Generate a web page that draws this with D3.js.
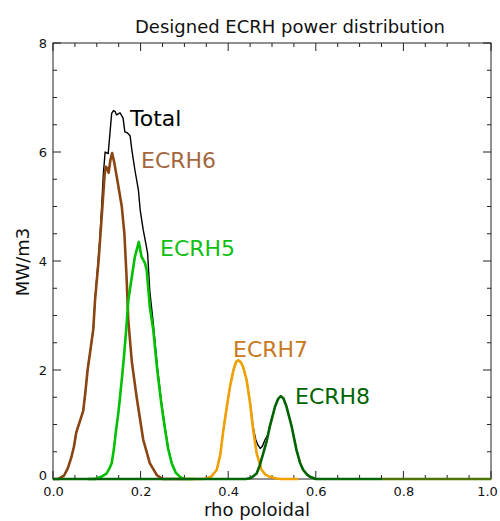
<!DOCTYPE html>
<html><head><meta charset="utf-8">
<script src="https://cdn.jsdelivr.net/npm/d3@7"></script>
<style>body{margin:0;background:#fff}svg{display:block;font-family:"DejaVu Sans",sans-serif}</style>
</head><body><svg id="c" width="500" height="521"></svg>
<script>
const title = "Designed ECRH power distribution";
const xLabel = "rho poloidal";
const yLabel = "MW/m3";
const xTicks = [0, 0.2, 0.4, 0.6, 0.8, 1.0];
const yTicks = [0, 2, 4, 6, 8];

const totalRho = [0,0.012,0.025,0.034,0.042,0.048,0.053,0.057,0.063,0.069,0.074,0.079,0.086,0.092,0.096,0.102,0.107,0.111,0.115,0.119,0.126,0.134,0.138,0.142,0.145,0.149,0.153,0.16,0.164,0.17,0.176,0.18,0.187,0.195,0.199,0.206,0.212,0.216,0.221,0.229,0.238,0.247,0.256,0.263,0.271,0.28,0.29,0.3,0.34,0.351,0.362,0.374,0.382,0.389,0.397,0.404,0.412,0.418,0.423,0.429,0.434,0.442,0.45,0.457,0.463,0.468,0.473,0.478,0.484,0.49,0.495,0.507,0.514,0.52,0.526,0.533,0.545,0.556,0.564,0.571,0.58,0.587,0.6,1.0];
const totalVal = [0,0,0.06,0.2,0.4,0.6,0.85,0.95,1.1,1.25,1.6,2.0,2.4,2.75,3.3,3.9,4.39,5.0,5.6,6.0,5.97,6.71,6.76,6.74,6.68,6.7,6.72,6.62,6.37,6.35,6.3,6.04,5.67,5.3,4.94,4.57,4.32,4.14,3.45,2.85,2.07,1.45,0.93,0.57,0.3,0.12,0.04,0,0,0.01,0.05,0.17,0.45,0.9,1.33,1.69,2.0,2.15,2.18,2.14,2.06,1.82,1.4,0.95,0.72,0.62,0.56,0.6,0.72,0.8,0.98,1.33,1.47,1.52,1.48,1.33,0.96,0.53,0.3,0.17,0.08,0.04,0,0];

const ecrh6Rho = [0,0.012,0.025,0.034,0.042,0.048,0.053,0.057,0.063,0.069,0.074,0.079,0.086,0.092,0.096,0.104,0.112,0.118,0.121,0.124,0.127,0.131,0.135,0.14,0.148,0.157,0.163,0.168,0.172,0.18,0.191,0.206,0.221,0.237,0.25,0.3];
const ecrh6Val = [0,0,0.06,0.2,0.4,0.6,0.85,0.95,1.1,1.25,1.6,2.0,2.4,2.75,3.28,4.0,4.9,5.6,5.73,5.7,5.62,5.85,5.98,5.8,5.43,5.0,4.5,3.7,2.9,2.15,1.5,0.72,0.29,0.07,0,0];

const ecrh5Rho = [0.08,0.096,0.11,0.122,0.128,0.134,0.139,0.144,0.149,0.153,0.158,0.162,0.167,0.172,0.18,0.187,0.196,0.202,0.21,0.214,0.221,0.229,0.238,0.247,0.256,0.263,0.271,0.28,0.29,0.298,0.32];
const ecrh5Val = [0,0,0.04,0.1,0.18,0.29,0.55,0.9,1.2,1.5,1.9,2.24,2.73,3.28,3.71,4.08,4.35,4.08,3.96,3.83,3.16,2.73,2.0,1.4,0.9,0.55,0.29,0.12,0.04,0,0];

const ecrh7Rho = [0.3,0.34,0.351,0.362,0.374,0.382,0.389,0.397,0.404,0.412,0.418,0.423,0.429,0.434,0.442,0.45,0.457,0.465,0.476,0.485,0.495,0.51,0.52,0.56];
const ecrh7Val = [0,0,0.01,0.05,0.17,0.45,0.9,1.33,1.69,2.0,2.15,2.18,2.14,2.06,1.82,1.39,0.9,0.47,0.17,0.08,0.04,0.01,0,0];

const ecrh8Rho = [0,0.44,0.452,0.465,0.472,0.48,0.488,0.495,0.507,0.514,0.52,0.526,0.533,0.545,0.556,0.564,0.571,0.58,0.587,0.6,0.75];
const ecrh8Val = [0,0,0.02,0.1,0.25,0.47,0.7,0.96,1.33,1.47,1.52,1.48,1.33,0.96,0.53,0.3,0.17,0.08,0.04,0,0];

const tailRho = [0.75, 1.0];
const tailVal = [0, 0];

const svg = d3.select("#c");
const L = 53, R = 491, T = 43, B = 479;
const x = d3.scaleLinear().domain([0, 1]).range([L, R]);
const y = d3.scaleLinear().domain([0, 8]).range([B, T]);

// frame
svg.append("rect").attr("x", L).attr("y", T).attr("width", R - L).attr("height", B - T)
  .attr("fill", "none").attr("stroke", "#222").attr("stroke-width", 1);

const ax = svg.append("g").attr("stroke", "#222").attr("stroke-width", 1);
const xMinor = d3.range(0, 1.0001, 0.05);
const yMinor = d3.range(0, 8.0001, 0.5);
xMinor.forEach(v => {
  const major = Math.abs(v / 0.2 - Math.round(v / 0.2)) < 1e-6;
  const len = major ? 8 : 4;
  ax.append("line").attr("x1", x(v)).attr("x2", x(v)).attr("y1", B).attr("y2", B - len);
  ax.append("line").attr("x1", x(v)).attr("x2", x(v)).attr("y1", T).attr("y2", T + len);
});
yMinor.forEach(v => {
  const major = Math.abs(v / 2 - Math.round(v / 2)) < 1e-6;
  const len = major ? 8 : 4;
  ax.append("line").attr("x1", L).attr("x2", L + len).attr("y1", y(v)).attr("y2", y(v));
  ax.append("line").attr("x1", R).attr("x2", R - len).attr("y1", y(v)).attr("y2", y(v));
});

// tick labels via d3 axes (lines hidden)
const xAxis = svg.append("g").attr("transform", `translate(0,${B})`)
  .call(d3.axisBottom(x).tickValues(xTicks).tickFormat(d3.format(".1f")).tickSize(0).tickPadding(8));
const yAxis = svg.append("g").attr("transform", `translate(${L},0)`)
  .call(d3.axisLeft(y).tickValues(yTicks).tickFormat(d3.format("d")).tickSize(0).tickPadding(6));
[xAxis, yAxis].forEach(g => {
  g.select(".domain").remove();
  g.selectAll("text").attr("font-size", 13).attr("fill", "#111").attr("font-family", "DejaVu Sans");
});
xAxis.selectAll(".tick").filter(d => d === 1).select("text").attr("dx", "-4");
yAxis.selectAll(".tick").filter(d => d === 0).select("text").attr("dy", "0.0em");

const line = d3.line().x(d => x(d[0])).y(d => y(d[1]));
function draw(rho, val, color, w) {
  svg.append("path").datum(rho.map((r, i) => [r, val[i]]))
    .attr("d", line).attr("fill", "none").attr("stroke", color)
    .attr("stroke-width", w).attr("stroke-linejoin", "round").attr("stroke-linecap", "butt");
}
draw(totalRho, totalVal, "#000", 1.4);
draw(ecrh6Rho, ecrh6Val, "#8b4513", 2.6);
draw(ecrh5Rho, ecrh5Val, "#00c000", 2.6);
draw(ecrh7Rho, ecrh7Val, "#f0a000", 2.6);
draw(tailRho, tailVal, "#4d7400", 2.6);
draw(ecrh8Rho, ecrh8Val, "#006400", 2.6);

// labels
const labels = [
  {t: "Total", x: 130, y: 126, c: "#000"},
  {t: "ECRH6", x: 141, y: 168, c: "#a5673f"},
  {t: "ECRH5", x: 160, y: 256, c: "#10c010"},
  {t: "ECRH7", x: 233, y: 357, c: "#c8781e"},
  {t: "ECRH8", x: 295, y: 404, c: "#006400"}
];
labels.forEach(l => svg.append("text").attr("x", l.x).attr("y", l.y).attr("fill", l.c)
  .attr("font-size", 22).text(l.t));

svg.append("text").attr("x", 290).attr("y", 33).attr("text-anchor", "middle")
  .attr("font-size", 18).attr("fill", "#111").text(title);
svg.append("text").attr("x", 257).attr("y", 516).attr("text-anchor", "middle")
  .attr("font-size", 18).attr("fill", "#111").text(xLabel);
svg.append("text").attr("transform", "translate(29,262) rotate(-90)").attr("text-anchor", "middle")
  .attr("font-size", 18).attr("fill", "#111").text(yLabel);
</script></body></html>
